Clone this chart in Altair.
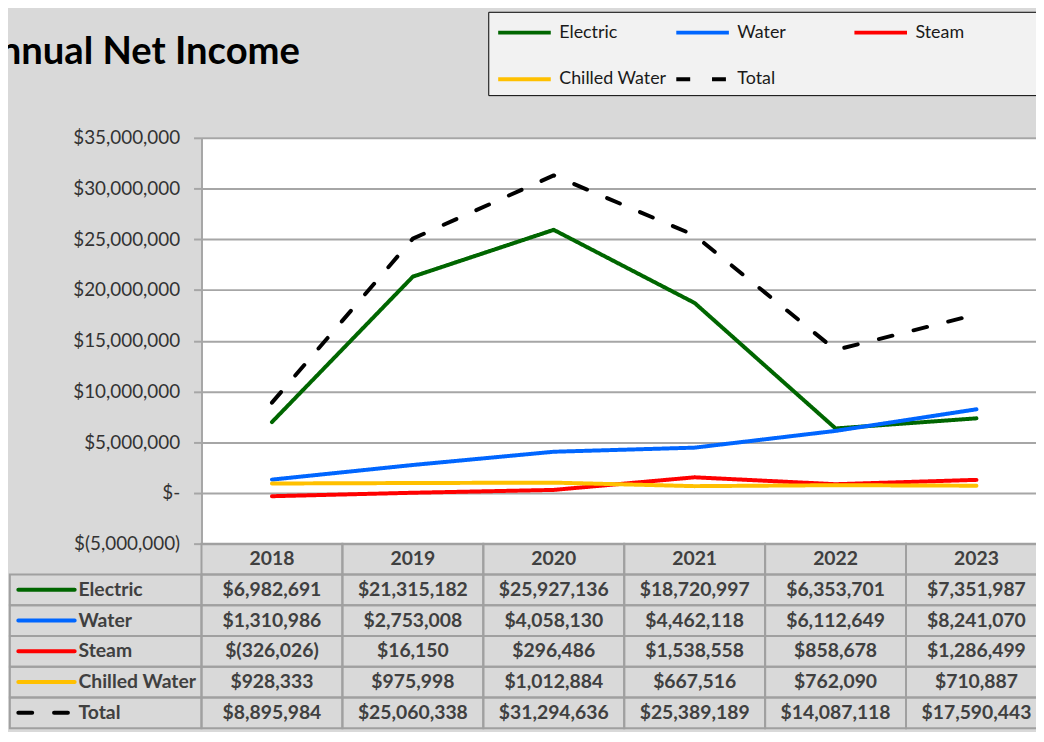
import altair as alt
import pandas as pd

years = ["2018", "2019", "2020", "2021", "2022", "2023"]
series = ["Electric", "Water", "Steam", "Chilled Water", "Total"]
electric = [6982691, 21315182, 25927136, 18720997, 6353701, 7351987]
water = [1310986, 2753008, 4058130, 4462118, 6112649, 8241070]
steam = [-326026, 16150, 296486, 1538558, 858678, 1286499]
chilled = [928333, 975998, 1012884, 667516, 762090, 710887]
total = [8895984, 25060338, 31294636, 25389189, 14087118, 17590443]
y_ticks = [-5000000, 0, 5000000, 10000000, 15000000, 20000000, 25000000, 30000000, 35000000]

colors = ["#006600", "#0066ff", "#ff0000", "#ffc000", "#000000"]
dashes = [[1, 0], [1, 0], [1, 0], [1, 0], [14, 22]]

values = {"Electric": electric, "Water": water, "Steam": steam,
          "Chilled Water": chilled, "Total": total}

FONT = "Lato"
GRID = "#a6a6a6"
TEXT = "#404040"


def money(v):
    if v < 0:
        return "$(" + f"{-v:,}" + ")"
    return "$" + f"{v:,}"


long_rows = []
for s in series:
    for yr, v in zip(years, values[s]):
        long_rows.append({"series": s, "year": yr, "value": v})
df = pd.DataFrame(long_rows)

color_scale = alt.Scale(domain=series, range=colors)
dash_scale = alt.Scale(domain=series, range=dashes)

# the legend box is widened by a hairline spacer title drawn in the box colour
legend = alt.Legend(
    title="\u2014" * 900, titleFontSize=1, titlePadding=4, titleColor="#f2f2f2",
    titleLimit=549,
    orient="none", legendX=289, legendY=-127, columns=3,
    direction="horizontal", gridAlign="all", symbolType="M-5.3,0H5.3",
    symbolSize=100, symbolStrokeWidth=4, symbolOffset=20.5,
    labelFontSize=18, labelFont=FONT, labelColor="#1a1a1a", labelOffset=26,
    columnPadding=1.5, rowPadding=29,
    padding=7, fillColor="#f2f2f2", strokeColor="#000000",
)

lines = alt.Chart(df).mark_line(strokeWidth=4, strokeCap="round", strokeJoin="round").encode(
    x=alt.X("year:O", axis=None, sort=years),
    y=alt.Y("value:Q", scale=alt.Scale(domain=[-5000000, 35000000], nice=False),
            axis=alt.Axis(values=y_ticks, title=None, grid=True, gridColor=GRID, gridWidth=2,
                          domainColor=GRID, domainWidth=2, tickColor=GRID, tickWidth=2,
                          tickSize=8, labelPadding=14, labelFontSize=19, labelFont=FONT,
                          labelColor="#333333", labelFlush=False, labelOverlap=False,
                          labelExpr="datum.value == 0 ? '$-\u00a0\u00a0\u00a0\u00a0' : "
                                    "(datum.value < 0 ? '$(' + format(-datum.value, ',') + ')' : "
                                    "'$' + format(datum.value, ',') + '\u00a0')")),
    color=alt.Color("series:N", scale=color_scale, legend=legend),
    strokeDash=alt.StrokeDash("series:N", scale=dash_scale, legend=legend),
)

title = alt.Chart(pd.DataFrame({"t": ["Annual Net Income"]})).mark_text(
    align="left", baseline="alphabetic", fontSize=38.5, fontWeight="bold", font=FONT, color="#000000"
).encode(text="t:N", x=alt.value(-230), y=alt.value(-74))

top = alt.layer(lines, title).properties(
    width=852, height=409, view=alt.ViewBackground(fill="white", stroke=None)
)

# ---- data table ----
rows_order = ["hdr"] + series
LABEL_COL = 1.36
cells = []
for i, yr in enumerate(years):
    cells.append({"row": "hdr", "x0": i, "x1": i + 1, "xc": i + 0.5, "txt": yr})
    for s in series:
        cells.append({"row": s, "x0": i, "x1": i + 1, "xc": i + 0.5, "txt": money(values[s][i])})
for s in series:
    cells.append({"row": s, "x0": -LABEL_COL, "x1": 0, "xc": None, "txt": None})
cells_df = pd.DataFrame(cells)

lab_df = pd.DataFrame({"row": series, "lx": [-0.873] * 5, "sx0": [-1.30] * 5, "sx1": [-0.90] * 5})

xq = alt.Scale(domain=[0, 6], nice=False, zero=False)
yb = alt.Scale(domain=rows_order, paddingInner=0, paddingOuter=0)

rects = alt.Chart(cells_df).mark_rect(fill=None, stroke="#a0a0a0", strokeWidth=2).encode(
    x=alt.X("x0:Q", scale=xq, axis=None), x2="x1:Q",
    y=alt.Y("row:N", scale=yb, axis=None),
)
texts = alt.Chart(cells_df).transform_filter("datum.txt != null").mark_text(
    fontSize=19.5, fontWeight="bold", font=FONT, color=TEXT, baseline="middle"
).encode(
    x=alt.X("xc:Q", scale=xq, axis=None), y=alt.Y("row:N", scale=yb, axis=None), text="txt:N"
)
labels = alt.Chart(lab_df).mark_text(
    fontSize=19.5, fontWeight="bold", font=FONT, color=TEXT, align="left", baseline="middle"
).encode(
    x=alt.X("lx:Q", scale=xq, axis=None), y=alt.Y("row:N", scale=yb, axis=None), text="row:N"
)
swatches = alt.Chart(lab_df).mark_rule(strokeWidth=4, strokeCap="round").encode(
    x=alt.X("sx0:Q", scale=xq, axis=None), x2="sx1:Q",
    y=alt.Y("row:N", scale=yb, axis=None),
    color=alt.Color("row:N", scale=color_scale, legend=None),
    strokeDash=alt.StrokeDash("row:N", scale=dash_scale, legend=None),
)
table = alt.layer(rects, swatches, texts, labels).properties(
    width=852, height=186, view=alt.ViewBackground(stroke=None)
)

chart = alt.vconcat(top, table, spacing=0, bounds="flush").resolve_scale(
    color="independent", strokeDash="independent"
).properties(
    background="#d9d9d9",
    padding={"left": -35, "top": 0, "right": -12, "bottom": 0},
).configure_view(stroke=None).configure(font=FONT)

chart.save("out.html", embed_options={"renderer": "svg", "actions": False})
